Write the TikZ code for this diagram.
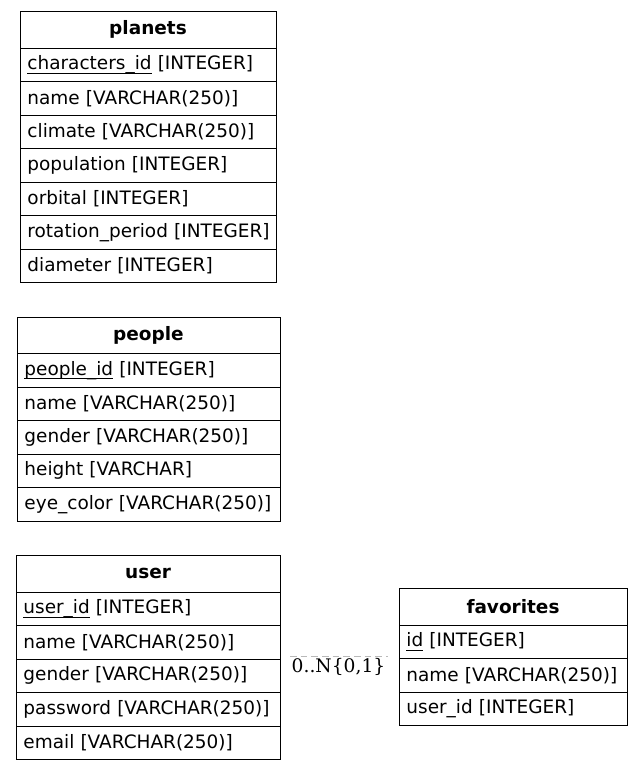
\documentclass[tikz,border=0pt]{standalone}
\usepackage{fontspec}
\setmainfont{DejaVu Sans}
\newfontfamily\edgefont{DejaVu Serif}
\newcommand\keyul[1]{\setbox0\hbox{#1}\rlap{\rule[-3.1pt]{\wd0}{0.75pt}}\box0\relax}
\begin{document}
\begin{tikzpicture}[x=0.75pt,y=-0.75pt,
  hdr/.style={draw, line width=0.75pt, anchor=north west, inner sep=0pt, outer sep=0pt,
    minimum height=27.75pt, font=\fontsize{13.85pt}{16pt}\selectfont\bfseries},
  rowbox/.style={draw, line width=0.75pt, anchor=north west, inner ysep=0pt, outer sep=0pt,
    inner xsep=5.6pt, minimum height=25.125pt, align=left,
    font=\fontsize{13.85pt}{16pt}\selectfont},
  edge/.style={draw=gray!55, line width=0.6pt, dash pattern=on 5pt off 3pt},
  elabel/.style={font=\edgefont\fontsize{14pt}{16pt}\selectfont, inner sep=0pt, anchor=base}
]
\useasboundingbox (0,0) rectangle (643,769);

% planets
\node[hdr, minimum width=192pt] (pl) at (20,11) {planets};
\node[rowbox, text width=180.8pt] (pl1) at (pl.south west) {\mbox{\keyul{characters\_id} [INTEGER]}};
\node[rowbox, text width=180.8pt] (pl2) at (pl1.south west) {\mbox{name [VARCHAR(250)]}};
\node[rowbox, text width=180.8pt] (pl3) at (pl2.south west) {\mbox{climate [VARCHAR(250)]}};
\node[rowbox, text width=180.8pt] (pl4) at (pl3.south west) {\mbox{population [INTEGER]}};
\node[rowbox, text width=180.8pt] (pl5) at (pl4.south west) {\mbox{orbital [INTEGER]}};
\node[rowbox, text width=180.8pt] (pl6) at (pl5.south west) {\mbox{rotation\_period [INTEGER]}};
\node[rowbox, text width=180.8pt] (pl7) at (pl6.south west) {\mbox{diameter [INTEGER]}};

% people
\node[hdr, minimum width=197.25pt, minimum height=27.4pt] (pe) at (17,317) {people};
\node[rowbox, text width=186.05pt] (pe1) at (pe.south west) {\mbox{\keyul{people\_id} [INTEGER]}};
\node[rowbox, text width=186.05pt] (pe2) at (pe1.south west) {\mbox{name [VARCHAR(250)]}};
\node[rowbox, text width=186.05pt] (pe3) at (pe2.south west) {\mbox{gender [VARCHAR(250)]}};
\node[rowbox, text width=186.05pt] (pe4) at (pe3.south west) {\mbox{height [VARCHAR]}};
\node[rowbox, text width=186.05pt] (pe5) at (pe4.south west) {\mbox{eye\_color [VARCHAR(250)]}};

% user
\node[hdr, minimum width=198pt] (us) at (16,555) {user};
\node[rowbox, text width=186.8pt] (us1) at (us.south west) {\mbox{\keyul{user\_id} [INTEGER]}};
\node[rowbox, text width=186.8pt] (us2) at (us1.south west) {\mbox{name [VARCHAR(250)]}};
\node[rowbox, text width=186.8pt] (us3) at (us2.south west) {\mbox{gender [VARCHAR(250)]}};
\node[rowbox, text width=186.8pt] (us4) at (us3.south west) {\mbox{password [VARCHAR(250)]}};
\node[rowbox, text width=186.8pt] (us5) at (us4.south west) {\mbox{email [VARCHAR(250)]}};

% favorites
\node[hdr, minimum width=171pt] (fa) at (399,588) {favorites};
\node[rowbox, text width=159.8pt] (fa1) at (fa.south west) {\mbox{\keyul{id} [INTEGER]}};
\node[rowbox, text width=159.8pt] (fa2) at (fa1.south west) {\mbox{name [VARCHAR(250)]}};
\node[rowbox, text width=159.8pt] (fa3) at (fa2.south west) {\mbox{user\_id [INTEGER]}};

% relation
\coordinate (ea) at (290,656);
\coordinate (eb) at (388,656);
\draw[edge] (ea) -- (eb);
\node[elabel] (rel) at (338.5,672) {0..N\{0,1\}};
\end{tikzpicture}
\end{document}
